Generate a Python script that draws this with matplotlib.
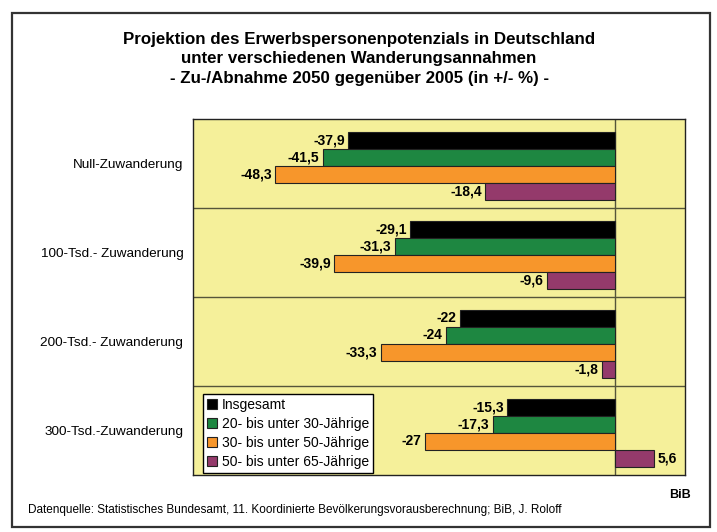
import matplotlib
matplotlib.use("Agg")
import matplotlib.pyplot as plt
import numpy as np
from matplotlib.patches import Rectangle

plt.rcParams["font.family"] = ["Liberation Sans", "DejaVu Sans"]

# data
scenarios = [
    "Null-Zuwanderung",
    "100-Tsd.- Zuwanderung",
    "200-Tsd.- Zuwanderung",
    "300-Tsd.-Zuwanderung",
]
series_names = [
    "Insgesamt",
    "20- bis unter 30-Jährige",
    "30- bis unter 50-Jährige",
    "50- bis unter 65-Jährige",
]
insgesamt = [-37.9, -29.1, -22.0, -15.3]
age_20_30 = [-41.5, -31.3, -24.0, -17.3]
age_30_50 = [-48.3, -39.9, -33.3, -27.0]
age_50_65 = [-18.4, -9.6, -1.8, 5.6]
colors = ["#000000", "#1e8741", "#f7962b", "#943a6b"]

title = ("Projektion des Erwerbspersonenpotenzials in Deutschland\n"
         "unter verschiedenen Wanderungsannahmen\n"
         "- Zu-/Abnahme 2050 gegenüber 2005 (in +/- %) -")
source = "Datenquelle: Statistisches Bundesamt, 11. Koordinierte Bevölkerungsvorausberechnung; BiB, J. Roloff"


def fmt(v):
    s = f"{v:.1f}".replace(".", ",")
    if s.endswith(",0"):
        s = s[:-2]
    return s


fig = plt.figure(figsize=(7.17, 5.32), dpi=100)
fig.patches.append(Rectangle((12 / 717, 1 - 527 / 532), 698 / 717, 514 / 532,
                             transform=fig.transFigure, fill=False,
                             edgecolor="#333333", linewidth=1.6))

ax = fig.add_axes([193 / 717, 1 - 475 / 532, 492 / 717, 356 / 532])
ax.set_facecolor("#f5f09a")

y = np.arange(len(scenarios))
h = 0.19
all_series = [insgesamt, age_20_30, age_30_50, age_50_65]
for i, (vals, name, c) in enumerate(zip(all_series, series_names, colors)):
    pos = y + (i - 1.5) * h + 0.025
    bars = ax.barh(pos, vals, height=h, color=c, edgecolor="#222222",
                   linewidth=0.8, label=name, zorder=3)
    for b, v in zip(bars, vals):
        yc = b.get_y() + b.get_height() / 2
        if v < 0:
            ax.text(v - 0.5, yc, fmt(v), ha="right", va="center",
                    fontsize=10, fontweight="bold", zorder=4)
        else:
            ax.text(v + 0.5, yc, fmt(v), ha="left", va="center",
                    fontsize=10, fontweight="bold", zorder=4)

ax.set_xlim(-60, 10)
ax.set_ylim(len(scenarios) - 0.5, -0.5)
ax.set_yticks(y)
ax.set_yticklabels(scenarios, fontsize=9.7)
ax.tick_params(axis="y", length=0, pad=7)
ax.set_xticks([])
for yy in y[:-1] + 0.5:
    ax.axhline(yy, color="#55553a", linewidth=1.0, zorder=2)
ax.axvline(0, color="#55553a", linewidth=1.0, zorder=2)
for s in ax.spines.values():
    s.set_color("#222222")
    s.set_linewidth(1.0)

leg = ax.legend(loc="lower left", bbox_to_anchor=(0.02, 0.006), fontsize=10,
                frameon=True, fancybox=False, framealpha=1, handlelength=0.75,
                handleheight=0.75, handletextpad=0.3, borderpad=0.3,
                labelspacing=0.35, borderaxespad=0)
leg.get_frame().set_edgecolor("#000000")
leg.get_frame().set_facecolor("white")
leg.get_frame().set_linewidth(1.0)
leg.set_zorder(5)

fig.text(359 / 717, 1 - 59 / 532, title, ha="center", va="center",
         fontsize=12.2, fontweight="bold", linespacing=1.35)
fig.text(28 / 717, 1 - 510 / 532, source, ha="left", va="center", fontsize=8.5)
fig.text(691 / 717, 1 - 495 / 532, "BiB", ha="right", va="center",
         fontsize=9, fontweight="bold")

fig.savefig("out.png", dpi=100)
